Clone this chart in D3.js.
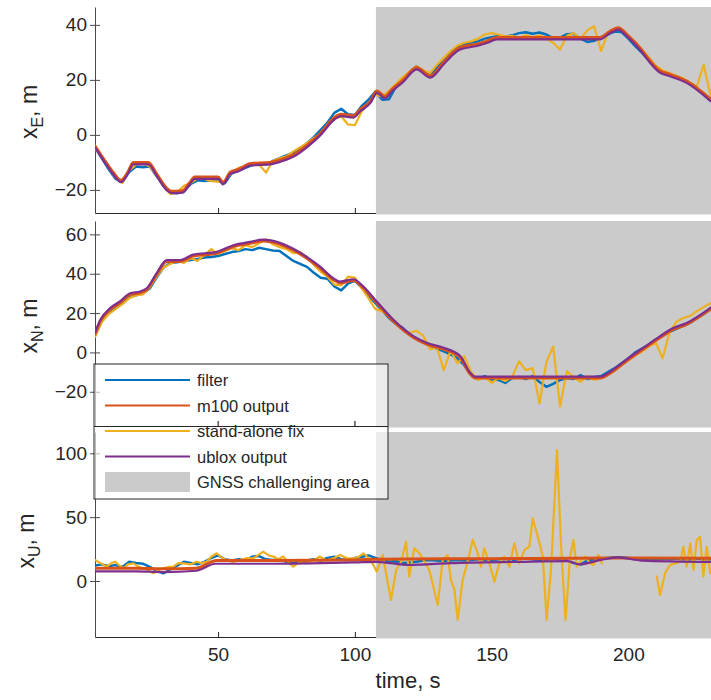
<!DOCTYPE html>
<html>
<head>
<meta charset="utf-8">
<script src="https://cdn.jsdelivr.net/npm/d3@7"></script>
<style>
  body { margin: 0; background: #fff; }
  svg { display: block; }
  text { font-family: "Liberation Sans", Arial, sans-serif; }
</style>
</head>
<body>
<div id="chart"></div>
<script>
// ---------- data ----------
// x axis
const timeDomain = [5, 230.2];
const timeTicks = [50, 100, 150, 200];
const challengeStart = 107.7;          // start of the GNSS challenging area, s

// sample times shared by the filter and stand-alone traces (2.5 s step)
const gridTime = d3.range(5, 230.01, 2.5);

// ---- East ----
const filterE = [
  -4.5, -8.5, -12.5, -16, -17, -13.5, -11.5, -11.8, -11.5, -15,
  -18.5, -21, -21.2, -20.5, -17.8, -16.5, -16.8, -16.5, -16.8, -17.5,
  -14, -13, -12, -11, -10.5, -10.8, -9.5, -8.5, -7.5, -6.5,
  -5, -3, -0.8, 1.8, 4.5, 8, 9.5, 7.5, 7.2, 10.5,
  12.8, 15.8, 12.8, 13, 17.5, 20.5, 22.8, 25, 23, 21.5,
  24.5, 27.2, 29.8, 32, 32.8, 33.5, 34, 35, 35.5, 36,
  35.8, 36.2, 37, 37.3, 36.8, 37.2, 36.5, 35.2, 35.4, 36.6,
  36.8, 35, 33.8, 34.2, 35.5, 36.6, 37.6, 37.4, 35, 32.3,
  29.8, 27.2, 24.6, 22.8, 22, 21.2, 20, 18.5, 16.8, 15,
  13
];
const standaloneE = [
  -5, -8, -12, -15.5, -17.5, -13, -10.8, -10.2, -11.5, -14.8,
  -18.5, -21.5, -21, -18.5, -17.5, -15.8, -16, -16.8, -17, -16.8,
  -13.8, -12, -11.5, -10.5, -10.8, -13.7, -9.5, -8.5, -7.8, -6,
  -4.5, -3, -1.2, 0.5, 3, 5.8, 6.8, 3.8, 3.5, 8.5,
  11.5, 14.5, 14, 16, 18.5, 21, 23, 25, 23.5, 22.5,
  25.5, 28, 30.5, 32.5, 33.5, 34, 35, 36.5, 37, 36.5,
  35.8, 36, 35.2, 36.3, 35.5, 36.2, 35, 33.5, 31, 36,
  37, 35, 38, 39.5, 30.5, 37, 38.5, 38.3, 36.2, 33.8,
  31, 28.2, 25.2, 23.5, 22.5, 21.5, 20.5, 19, 17.5, 25.5,
  14.5
];
const m100TimeE = [5, 8.7, 11.7, 14.5, 17, 19, 24.5, 27.6, 31.2, 33, 37, 39.5, 41.5, 50, 51.8,
  54.5, 57.5, 62, 69, 73, 78, 83, 87.6, 92.5, 95, 99.5, 102, 105.8, 108, 111, 113.5, 117.7,
  122.6, 127.5, 132.4, 136, 138.5, 144.6, 148, 152, 189.6, 193, 196.3, 199.5, 203, 211.6,
  215.2, 221.3, 230];
const m100E = [-4, -9.5, -13.7, -16.5, -13.5, -10, -10, -14.3, -19.4, -20.5, -20.3, -17.5, -15.3,
  -15.3, -17.3, -13.5, -12.5, -10.4, -10, -9, -7, -3.4, 0.8, 6.3, 7.5, 7, 9.3, 12.4, 16, 14,
  16.5, 20, 24.5, 21.5, 26.3, 30, 31.8, 33, 34, 35.4, 35.4, 37.5, 39, 36.5, 33, 23.3, 22,
  19.6, 13];
const ubloxE = [-4.6, -10.2, -14.4, -17.2, -14.2, -10.7, -10.7, -15, -20.1, -21.2, -21, -18.2,
  -16, -16, -18, -14.2, -13.2, -11.1, -10.7, -9.7, -7.7, -4.1, 0.1, 5.6, 6.8, 6.3, 8.6, 11.7,
  15.3, 13.3, 15.8, 19.3, 23.8, 20.8, 25.6, 29.3, 31.1, 32.3, 33.3, 34.7, 34.7, 36.8, 38.3,
  35.8, 32.3, 22.6, 21.3, 18.9, 12.3];

// ---- North ----
const filterN = [
  8.5, 16, 19.8, 22.5, 25, 28, 29, 30, 32.5, 38,
  43, 45.5, 45.8, 46.5, 47, 47.5, 48.2, 48.5, 49, 50,
  51, 51.5, 52.5, 52, 53.2, 52.5, 51.8, 51.5, 49, 46.5,
  45, 43.5, 40.5, 38, 37.5, 33.5, 31.5, 35, 36.5, 33,
  29, 25, 21.5, 17.5, 14.5, 12.5, 9, 7, 5.5, 3.5,
  2, 0.5, -1, -3, -6.5, -11.5, -13.5, -12, -13.8, -14,
  -15.5, -13, -12.5, -13.5, -12, -15, -17.5, -16, -14, -13,
  -13.5, -11.5, -13.5, -12.5, -12, -10, -8, -5.5, -3, 0,
  2, 4, 6.5, 8.5, 10.5, 12, 13.5, 15, 17.5, 19.5,
  22
];
const standaloneN = [
  8, 15.5, 19.5, 22, 24.5, 27.5, 29, 29.5, 33, 38.5,
  43, 45, 46.5, 45.5, 48, 46.5, 49.5, 52.5, 50, 51.5,
  53, 52, 54.5, 53.5, 55.5, 57.5, 55, 53.5, 52.5, 50.5,
  51, 48.5, 44.5, 41, 38.5, 34.5, 34, 38.5, 38, 32.5,
  27.5, 22, 21, 18.5, 15.5, 11.5, 10, 11, 8.5, 1.5,
  2.5, -9, 1, -5.5, -2, -10, -14, -12.5, -15.5, -13,
  -14.5, -12.5, -4.5, -9, -8, -26, -5, 3, -27.5, -9.5,
  -12.5, -15, -12, -14, -13, -11, -9.5, -6.5, -4, -1.5,
  0.5, 3, 5, -3, 10, 15.5, 17.5, 18.5, 21, 23,
  25
];
const m100TimeN = [5, 7, 10.5, 14.1, 17.8, 21.5, 23.9, 27.5, 31.2, 36.1, 40.9, 49.5, 55.6, 61.7,
  66.5, 72.6, 77.5, 82.4, 87.3, 92.1, 94.6, 99.5, 103.1, 108, 114, 121.4, 126.2, 132.4, 138.5,
  142.1, 144, 189.6, 194.6, 199.4, 205.5, 211.6, 216.4, 221.3, 230];
const m100N = [9.2, 16, 21.8, 25.2, 29.4, 30.3, 31.9, 39.5, 46.2, 46.2, 49, 50.4, 53.8, 55.5,
  56.6, 55, 52, 47.9, 42.9, 37, 35.3, 36.5, 32.8, 25.2, 16, 7.6, 4.2, 1.7, -2.5, -10.9, -13,
  -13, -9.3, -4.2, 1.7, 7.6, 11.7, 14.3, 22];
const ubloxN = [9.9, 16.7, 22.5, 25.9, 30.1, 31, 32.6, 40.2, 46.9, 46.9, 49.7, 51.1, 54.5, 56.2,
  57.3, 55.7, 52.7, 48.6, 43.6, 37.7, 36, 37.2, 33.5, 25.9, 16.7, 8.3, 4.9, 2.4, -1.8, -10.2,
  -12.3, -12.3, -8.6, -3.5, 2.4, 8.3, 12.4, 15, 22.7];

// ---- Up ----
const filterU = [
  12, 13, 11.5, 12.5, 11, 15, 14, 13.5, 11, 8,
  6, 9, 12, 15, 14, 13, 15, 18, 20, 17,
  16, 17, 16, 19, 19.5, 17, 16.5, 17, 15, 14,
  15.5, 16, 17, 16, 18, 19, 17, 16.5, 18, 19,
  20, 18, 16, 15, 15.5, 14, 14.5, 15, 16, 16.5,
  16, 15.5, 16, 16.5, 16, 16.5, 17, 16.5, 16, 17,
  17, 16.5, 17, 17.5, 17, 16.5, 17, 17.5, 17, 16,
  14, 13, 16, 17, 17.5, 18, 18.5, 18.5, 18, 17.5,
  17.5, 17, 17, 17.5, 17, 17.5, 17, 17, 17.5, 17,
  17
];
const standaloneTimeU = [5, 7, 9.3, 11, 12.3, 14, 15.4, 17, 19, 21,
  22.7, 24.5, 26.3, 28, 30, 32, 33.6, 35.5, 37.3, 40,
  42.2, 44, 45.8, 47.5, 49.5, 51.5, 53.1, 55.5, 58, 60.5,
  62.9, 64.5, 66.5, 68.5, 70.2, 72, 73.8, 75.5, 77.5, 80,
  82, 83.6, 85.5, 87.3, 89.5, 92.1, 94.6, 97, 99.5, 101.5,
  103.1, 105, 106.8, 108, 110.2, 111.4, 113.2, 115.1, 116.9, 118.7,
  119.9, 121.7, 123.6, 125.4, 127.2, 130.3, 132.1, 133.9, 135.1, 136.4,
  137.6, 139.4, 141.2, 143.1, 144.9, 146.1, 147.3, 149.2, 151, 152.8,
  154.6, 156.5, 158.3, 160.1, 162, 163.8, 165, 166.2, 167.5, 168.7,
  170.1, 171.7, 173.9, 175.4, 177, 178.7, 179.9, 181.1, 182.3, 184.2,
  186, 187.2, 189, 190.3, 200,
  210.4, 211.6, 213.4, 215.2, 217.1, 218.9, 220.1, 221.3, 222.6, 223.8,
  225, 226.2, 227.4, 228.6, 229.9];
const standaloneU = [16.4, 14, 11.2, 14, 15.1, 12, 9.9, 13, 13.8, 11,
  9.9, 8, 6, 8.5, 9.9, 11, 11.2, 14, 13.8, 13,
  15.1, 14, 15.1, 19, 21.7, 18, 16.4, 15, 16.4, 18,
  17.7, 20, 23, 20, 19.1, 17, 19.1, 15, 11.2, 15.1,
  14, 15.1, 17, 19.1, 16, 17.7, 20.4, 18, 17.7, 19,
  21.7, 18, 12.5, 7.3, 20.4, 6, -14.9, 8.6, 15.1, 30.8,
  3.4, 25.6, 21.7, 15.1, 8.6, -18.8, 16.4, 20.4, 0.8, -7,
  -30.5, 0.8, 15.1, 32.1, 21.7, 11.2, 25.6, 13.8, -0.5, 13.8,
  19.1, 11.2, 29.5, 13.8, 24.3, 26.9, 49.1, 39.9, 29.5, 19.1,
  -30.5, 8.6, 102.6, 26.9, -30.5, 19.1, 32.1, 11.2, 15.1, 19.1,
  13.8, 12.5, 20.4, 13.8, null,
  3.4, -11, 6, 12.5, 13.8, 15.1, 26.9, 11.2, 29.5, 8.6,
  32.1, 34.7, 3.4, 26.9, 6];
const m100TimeU = [5, 20, 30, 42, 49.5, 70, 100, 108, 150, 180, 200, 230];
const m100U = [10, 10, 9.5, 10, 16, 16, 16.5, 17, 17.5, 17.8, 18, 17.8];
const ubloxTimeU = [5, 20, 30, 42, 49, 70, 100, 108, 120, 135, 160, 178, 182, 190, 196, 205, 230];
const ubloxU = [7.5, 7.5, 7, 8, 13.5, 13.5, 14.5, 15, 12.5, 14, 15, 15.5, 13, 16.5, 18.5, 16, 15];

// legend labels
const seriesNames = ["filter", "m100 output", "stand-alone fix", "ublox output"];
const areaName = "GNSS challenging area";

// ---------- styling / layout ----------
const colors = { filter: "#0072BD", m100: "#D95319", standalone: "#EDB120", ublox: "#7E2F8E" };
const widths = { filter: 2.5, m100: 3, standalone: 2.2, ublox: 2.2 };
const greyFill = "#cbcbcb";
const ink = "#262626";
const plotLeft = 95, plotRight = 711;

const panels = [
  { sub: "E", top: 7, bottom: 213, domain: [-28.4, 46.5], ticks: [-20, 0, 20, 40], labelX: 37, labelY: 112,
    series: {
      filter: [gridTime, filterE], standalone: [gridTime, standaloneE],
      m100: [m100TimeE, m100E], ublox: [m100TimeE, ubloxE] } },
  { sub: "N", top: 221, bottom: 426, domain: [-37.4, 66.8], ticks: [-20, 0, 20, 40, 60], labelX: 37, labelY: 326,
    series: {
      filter: [gridTime, filterN], standalone: [gridTime, standaloneN],
      m100: [m100TimeN, m100N], ublox: [m100TimeN, ubloxN] } },
  { sub: "U", top: 432, bottom: 637, domain: [-43.9, 116.7], ticks: [0, 50, 100], labelX: 34, labelY: 541,
    series: {
      filter: [gridTime, filterU], standalone: [standaloneTimeU, standaloneU],
      m100: [m100TimeU, m100U], ublox: [ubloxTimeU, ubloxU] } }
];

const svg = d3.select("#chart").append("svg").attr("width", 711).attr("height", 700);
const defs = svg.append("defs");
const x = d3.scaleLinear().domain(timeDomain).range([plotLeft, plotRight]);

const drawOrder = ["filter", "standalone", "m100", "ublox"];
const yScales = [];

panels.forEach((p, i) => {
  const y = d3.scaleLinear().domain(p.domain).range([p.bottom, p.top]);
  yScales.push(y);
  const g = svg.append("g");

  defs.append("clipPath").attr("id", "clip" + i)
    .append("rect").attr("x", plotLeft).attr("y", p.top)
    .attr("width", plotRight - plotLeft).attr("height", p.bottom - p.top);

  // y axis (ticks on both sides of the spine)
  const ya = g.append("g").attr("transform", `translate(${plotLeft},0)`)
    .call(d3.axisLeft(y).tickValues(p.ticks).tickSizeInner(5).tickSizeOuter(0).tickPadding(3));
  ya.select(".domain").attr("stroke", "#4a4a4a");
  ya.selectAll(".tick line").attr("x1", 5).attr("stroke", "#4a4a4a");
  ya.selectAll(".tick text").attr("fill", ink).attr("font-size", 19);

  // x axis (inward ticks; labels on the lowest panel only)
  const xa = g.append("g").attr("transform", `translate(0,${p.bottom})`)
    .call(d3.axisBottom(x).tickValues(timeTicks).tickSizeInner(-5).tickSizeOuter(0).tickPadding(11)
      .tickFormat(i === 2 ? d3.format("d") : () => ""));
  xa.select(".domain").attr("stroke", ink);
  xa.selectAll(".tick line").attr("stroke", ink);
  xa.selectAll(".tick text").attr("fill", ink).attr("font-size", 19);

  // GNSS challenging area
  g.append("rect")
    .attr("x", x(challengeStart)).attr("y", p.top)
    .attr("width", plotRight - x(challengeStart)).attr("height", p.bottom - p.top + 1.5)
    .attr("fill", greyFill);

  // traces
  const lines = g.append("g").attr("clip-path", `url(#clip${i})`);
  drawOrder.forEach(key => {
    const [ts, vs] = p.series[key];
    const pts = d3.zip(ts, vs);
    const smooth = key === "m100" || key === "ublox";
    const line = d3.line()
      .defined(d => d[1] !== null)
      .x(d => x(d[0])).y(d => y(d[1]))
      .curve(smooth ? d3.curveMonotoneX : d3.curveLinear);
    lines.append("path").datum(pts)
      .attr("d", line)
      .attr("fill", "none")
      .attr("stroke", colors[key])
      .attr("stroke-width", widths[key])
      .attr("stroke-linejoin", "round")
      .attr("stroke-linecap", "round");
  });

  // axis label  x_sub, m
  const lab = g.append("text")
    .attr("transform", `translate(${p.labelX},${p.labelY}) rotate(-90)`)
    .attr("text-anchor", "middle").attr("font-size", 23).attr("fill", ink);
  lab.append("tspan").text("x");
  lab.append("tspan").attr("font-size", 16).attr("dy", 6).text(p.sub);
  lab.append("tspan").attr("dy", -6).text(", m");
});

// x axis title
svg.append("text").attr("x", 408).attr("y", 688).attr("text-anchor", "middle")
  .attr("font-size", 22).attr("fill", ink).text("time, s");

// ---------- legend ----------
const lg = svg.append("g");
const lx = 94, ly = 364, lw = 294, lh = 135;
lg.append("rect").attr("x", lx).attr("y", ly).attr("width", lw).attr("height", lh)
  .attr("fill", "#fff").attr("fill-opacity", 0.62).attr("stroke", ink).attr("stroke-width", 1);

// the middle panel's time axis stays visible across the legend
const midBottom = panels[1].bottom;
lg.append("line").attr("x1", lx).attr("x2", lx + lw).attr("y1", midBottom + 0.5).attr("y2", midBottom + 0.5)
  .attr("stroke", ink).attr("stroke-width", 1);
timeTicks.filter(t => x(t) < lx + lw).forEach(t => {
  lg.append("line").attr("x1", x(t)).attr("x2", x(t)).attr("y1", midBottom).attr("y2", midBottom - 5)
    .attr("stroke", ink);
});

const rowY = [380, 405.5, 431, 456.5, 482];
const keys = ["filter", "m100", "standalone", "ublox"];
keys.forEach((k, j) => {
  lg.append("line").attr("x1", 105).attr("x2", 190).attr("y1", rowY[j]).attr("y2", rowY[j])
    .attr("stroke", colors[k]).attr("stroke-width", 2.2);
  lg.append("text").attr("x", 197).attr("y", rowY[j] + 6).attr("font-size", 16.5)
    .attr("fill", ink).text(seriesNames[j]);
});
lg.append("rect").attr("x", 105).attr("y", rowY[4] - 10).attr("width", 85).attr("height", 20)
  .attr("fill", greyFill);
lg.append("text").attr("x", 197).attr("y", rowY[4] + 6).attr("font-size", 16.5)
  .attr("fill", ink).text(areaName);
</script>
</body>
</html>
